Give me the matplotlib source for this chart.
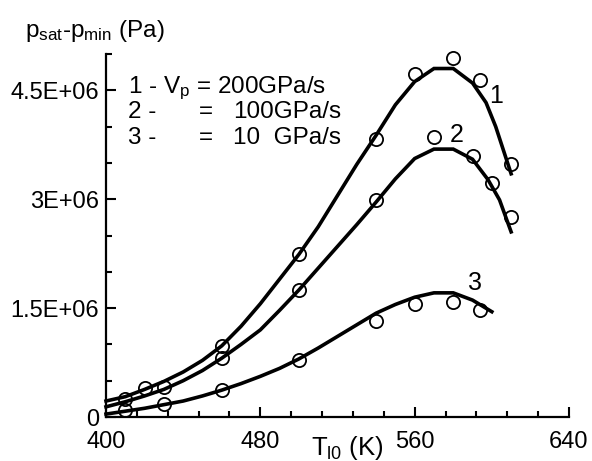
import numpy as np
import matplotlib
matplotlib.use('Agg')
import matplotlib.pyplot as plt
from matplotlib.ticker import MultipleLocator

plt.rcParams['font.family'] = 'Liberation Sans'
plt.rcParams['mathtext.fontset'] = 'custom'
plt.rcParams['mathtext.rm'] = 'Liberation Sans'
plt.rcParams['mathtext.it'] = 'Liberation Sans'

# fitted curves (T in K, p in 1E+06 Pa)
t1_line = [400, 410, 420, 430, 440, 450, 460, 470, 480, 490, 500, 510, 520, 530, 540, 550, 560, 570, 580, 590, 597, 602, 610]
p1_line = [0.22, 0.28, 0.38, 0.49, 0.62, 0.78, 0.98, 1.25, 1.56, 1.90, 2.24, 2.62, 3.05, 3.48, 3.88, 4.30, 4.62, 4.80, 4.80, 4.60, 4.33, 4.00, 3.35]
t2_line = [400, 410, 420, 430, 440, 450, 460, 470, 480, 490, 500, 510, 520, 530, 540, 550, 560, 570, 580, 590, 598, 604, 610]
p2_line = [0.14, 0.21, 0.29, 0.38, 0.50, 0.64, 0.81, 1.00, 1.20, 1.47, 1.75, 2.05, 2.35, 2.65, 2.96, 3.28, 3.56, 3.69, 3.69, 3.55, 3.27, 2.99, 2.55]
t3_line = [400, 410, 420, 430, 440, 450, 460, 470, 480, 490, 500, 510, 520, 530, 540, 550, 560, 570, 580, 590, 600]
p3_line = [0.04, 0.08, 0.12, 0.17, 0.22, 0.29, 0.37, 0.46, 0.56, 0.67, 0.80, 0.95, 1.11, 1.27, 1.43, 1.55, 1.65, 1.71, 1.71, 1.61, 1.45]

# computed points (circles)
t1_pts = [410, 420, 460, 500, 540, 560, 580, 594, 610]
p1_pts = [0.25, 0.40, 0.98, 2.24, 3.83, 4.72, 4.94, 4.64, 3.49]
t2_pts = [430, 460, 500, 540, 570, 590, 600, 610]
p2_pts = [0.42, 0.81, 1.75, 2.99, 3.86, 3.60, 3.22, 2.75]
t3_pts = [410, 430, 460, 500, 540, 560, 580, 594]
p3_pts = [0.10, 0.175, 0.37, 0.79, 1.32, 1.55, 1.58, 1.47]

xticks = [400, 480, 560, 640]
yticks = [0, 1.5e6, 3e6, 4.5e6]
ytick_labels = ['0', '1.5E+06', '3E+06', '4.5E+06']

W, H = 592, 461
fig = plt.figure(figsize=(W / 100, H / 100), dpi=100)
ax = fig.add_axes([106 / W, 1 - 417 / H, (569 - 106) / W, (417 - 54) / H])


def px(x, y):
    return x / W, 1 - y / H


for t, p in [(t1_line, p1_line), (t2_line, p2_line), (t3_line, p3_line)]:
    ax.plot(t, np.array(p) * 1e6, color='black', lw=2.6, solid_joinstyle='miter', clip_on=False)

for t, p in [(t1_pts, p1_pts), (t2_pts, p2_pts), (t3_pts, p3_pts)]:
    ax.plot(t, np.array(p) * 1e6, 'o', mfc='none', mec='black', ms=9.5, mew=1.3, clip_on=False)

ax.set_xlim(400, 640)
ax.set_ylim(0, 5e6)
ax.set_xticks(xticks)
ax.set_yticks(yticks)
ax.set_yticklabels(ytick_labels)
ax.xaxis.set_minor_locator(MultipleLocator(16))
ax.yaxis.set_minor_locator(MultipleLocator(0.5e6))
ax.tick_params(which='both', direction='in', width=1.5, labelsize=17)
ax.tick_params(which='major', length=7)
ax.tick_params(which='minor', length=4.5)
ax.tick_params(axis='x', pad=10)
ax.tick_params(axis='y', pad=5)
for s in ['top', 'right']:
    ax.spines[s].set_visible(False)
for s in ['left', 'bottom']:
    ax.spines[s].set_linewidth(1.6)

# curve numbers
ax.text(602, 4.42e6, '1', fontsize=18, ha='center', va='center')
ax.text(582, 3.89e6, '2', fontsize=18, ha='center', va='center')
ax.text(591.5, 1.85e6, '3', fontsize=18, ha='center', va='center')

# legend
fs = 17.5
fig.text(*px(128, 93), r'1 - V$_{\mathrm{p}}$ = 200GPa/s', fontsize=fs, va='baseline')
fig.text(*px(128, 118.5), '2 -', fontsize=fs, va='baseline')
fig.text(*px(199, 118.5), '=', fontsize=fs, va='baseline')
fig.text(*px(233, 118.5), '100GPa/s', fontsize=fs, va='baseline')
fig.text(*px(128, 144), '3 -', fontsize=fs, va='baseline')
fig.text(*px(199, 144), '=', fontsize=fs, va='baseline')
fig.text(*px(233, 144), '10  GPa/s', fontsize=fs, va='baseline')

# axis titles
fig.text(*px(25, 37), r'p$_{\mathrm{sat}}$-p$_{\mathrm{min}}$ (Pa)', fontsize=17.5, va='baseline')
fig.text(*px(311, 455), r'T$_{\mathrm{l0}}$ (K)', fontsize=18.5, va='baseline')

fig.savefig('out.png', dpi=100)
